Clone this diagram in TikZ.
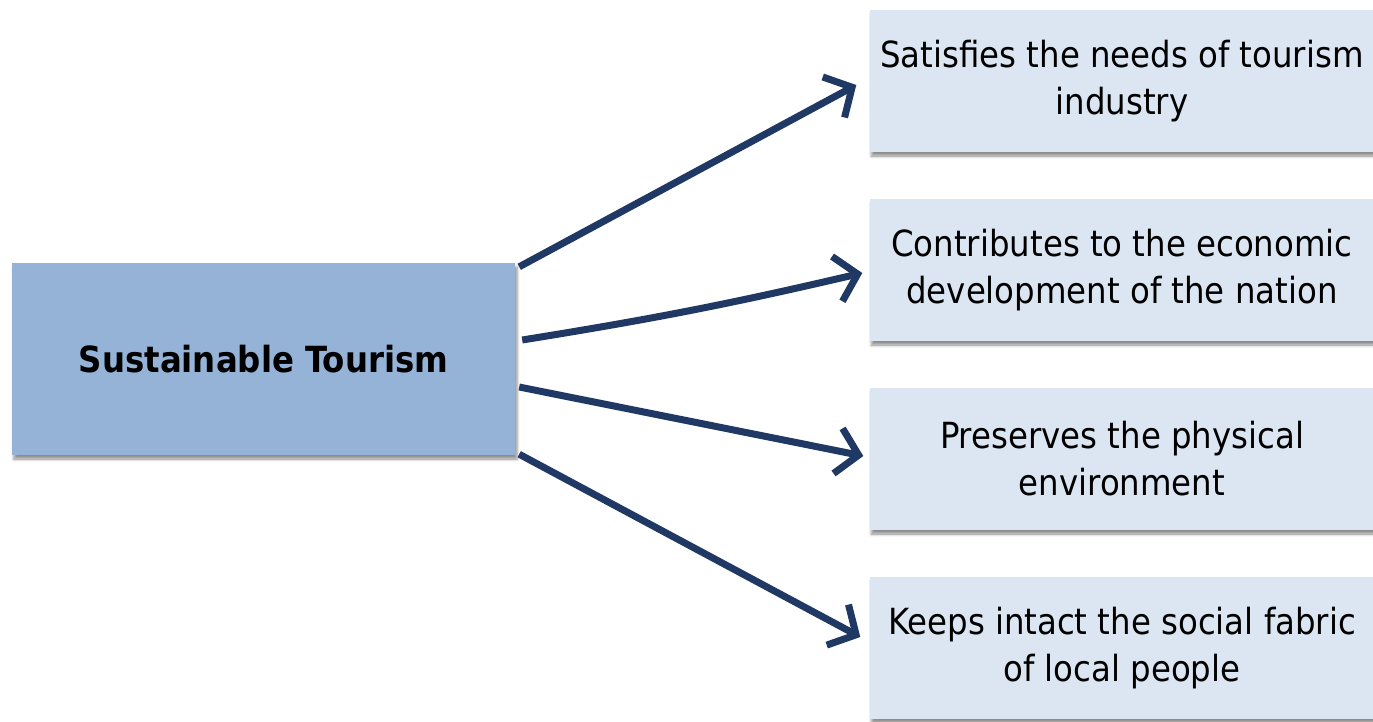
\documentclass[tikz,border=0pt]{standalone}
\usepackage{fontspec}
\setmainfont{DejaVu Sans Condensed}
\usetikzlibrary{arrows.meta,shadows.blur}
\definecolor{hubfill}{HTML}{95B3D7}
\definecolor{leaffill}{HTML}{DCE6F2}
\definecolor{arrowblue}{HTML}{1F3864}
\tikzset{
  hub/.style={rectangle, fill=hubfill, minimum width=503pt, minimum height=192pt,
    font=\fontsize{36}{46}\selectfont\bfseries, align=center,
    blur shadow={shadow xshift=2pt, shadow yshift=-4pt, shadow blur radius=3pt, shadow opacity=45}},
  leaf/.style={rectangle, fill=leaffill, minimum width=505pt, minimum height=142pt,
    font=\fontsize{36}{47}\selectfont, align=center,
    blur shadow={shadow xshift=2pt, shadow yshift=-4pt, shadow blur radius=3pt, shadow opacity=45}},
  link/.style={draw=arrowblue, line width=7pt,
    -{Straight Barb[length=21pt, width=46pt, line width=7pt]}}
}
\begin{document}
\begin{tikzpicture}[x=1pt,y=-1pt]
  \useasboundingbox (0,0) rectangle (1373,721);
  \node[hub] (main) at (263.5,359) {Sustainable Tourism};
  \node[leaf] (b1) at (1122,81) {Satisfies the needs of tourism\\industry};
  \node[leaf] (b2) at (1122,270) {Contributes to the economic\\development of the nation};
  \node[leaf] (b3) at (1122,459) {Preserves the physical\\environment};
  \node[leaf] (b4) at (1122,648) {Keeps intact the social fabric\\of local people};
  \draw[link] ([shift={(4pt,-4pt)}]main.north east) -- ([shift={(-13pt,-4pt)}]b1.west);
  \draw[link] ([shift={(7pt,19pt)}]main.east) to[bend right=2] ([shift={(-7pt,-3pt)}]b2.west);
  \draw[link] ([shift={(4pt,-28pt)}]main.east) -- ([shift={(-6pt,3pt)}]b3.west);
  \draw[link] ([shift={(4pt,1pt)}]main.south east) -- ([shift={(-9pt,11pt)}]b4.west);
\end{tikzpicture}
\end{document}
